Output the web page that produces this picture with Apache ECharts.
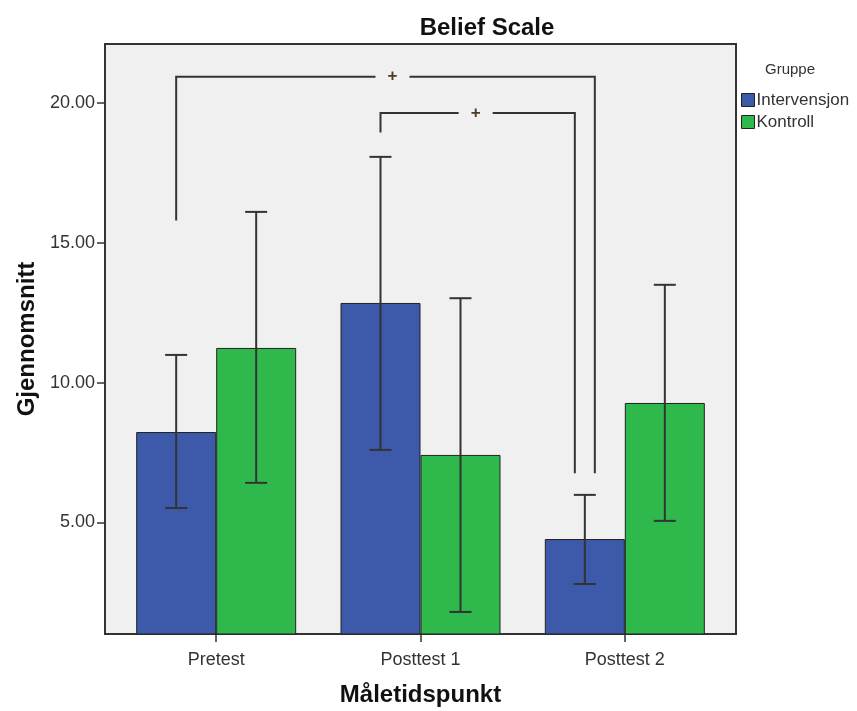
<!DOCTYPE html>
<html>
<head>
<meta charset="utf-8">
<title>Belief Scale</title>
<script src="https://cdn.jsdelivr.net/npm/echarts@6/dist/echarts.min.js"></script>
<style>
  html, body { margin: 0; padding: 0; background: #ffffff; }
  #chart { width: 857px; height: 711px; }
</style>
</head>
<body>
<div id="chart"></div>
<script>
// Measurement points on the x axis
const categories = ['Pretest', 'Posttest 1', 'Posttest 2'];
const groups = ['Intervensjon', 'Kontroll'];

// Group means
const meanIntervensjon = [8.23, 12.85, 4.40];
const meanKontroll = [11.24, 7.41, 9.27];

// Error bar limits
const lowIntervensjon = [5.51, 7.59, 2.79];
const highIntervensjon = [10.99, 18.08, 5.98];
const lowKontroll = [6.41, 1.79, 5.05];
const highKontroll = [16.11, 13.02, 13.50];

// Y axis tick labels
const yTicks = [5, 10, 15, 20];

// Significance brackets (Intervensjon bars): from/to category, end heights, top height, mark
const bracketFrom = [0, 1];
const bracketTo = [2, 2];
const bracketFromEnd = [15.8, 18.95];
const bracketToEnd = [6.75, 6.75];
const bracketTop = [20.95, 19.65];
const bracketMark = ['+', '+'];

const FONT = '"Liberation Sans", Arial, Helvetica, sans-serif';
const BLUE = '#3d59a9';
const GREEN = '#2fb84b';
const INK = '#333333';
const BAR_W = 80;

const chart = echarts.init(document.getElementById('chart'), null, { renderer: 'canvas' });

function errorSeries(name, lows, highs, shift) {
  return {
    type: 'custom',
    name: name + ' CI',
    z: 5,
    silent: true,
    data: categories.map((c, i) => [i, lows[i], highs[i]]),
    renderItem: function (params, api) {
      const lo = api.coord([api.value(0), api.value(1)]);
      const hi = api.coord([api.value(0), api.value(2)]);
      const x = lo[0] + shift;
      const cap = 11;
      const style = { stroke: INK, lineWidth: 2 };
      return {
        type: 'group',
        children: [
          { type: 'line', shape: { x1: x, y1: lo[1], x2: x, y2: hi[1] }, style: style },
          { type: 'line', shape: { x1: x - cap, y1: hi[1], x2: x + cap, y2: hi[1] }, style: style },
          { type: 'line', shape: { x1: x - cap, y1: lo[1], x2: x + cap, y2: lo[1] }, style: style }
        ]
      };
    }
  };
}

// Horizontal nudge of each bracket's right leg so the two legs sit side by side,
// and of each bracket's mark along its top line
const rightLegNudge = [10, -10];
const markNudge = [7, -2];

const bracketSeries = {
  type: 'custom',
  name: 'brackets',
  z: 6,
  silent: true,
  data: bracketFrom.map((f, i) => [f, bracketTo[i], bracketFromEnd[i], bracketToEnd[i], bracketTop[i], i]),
  renderItem: function (params, api) {
    const k = api.value(5);
    const a = api.coord([api.value(0), api.value(2)]);
    const b = api.coord([api.value(1), api.value(3)]);
    const t = api.coord([api.value(0), api.value(4)]);
    const x1 = a[0] - BAR_W / 2;
    const x2 = b[0] - BAR_W / 2 + rightLegNudge[k];
    const yTop = t[1];
    const mid = (x1 + x2) / 2 + markNudge[k];
    const gap = 17;
    const style = { stroke: INK, lineWidth: 2, fill: 'none' };
    return {
      type: 'group',
      children: [
        { type: 'polyline', shape: { points: [[x1, a[1]], [x1, yTop], [mid - gap, yTop]] }, style: style },
        { type: 'polyline', shape: { points: [[mid + gap, yTop], [x2, yTop], [x2, b[1]]] }, style: style },
        {
          type: 'text',
          x: mid, y: yTop,
          style: {
            text: bracketMark[k], fill: '#4a3b22', font: 'bold 17px ' + FONT,
            align: 'center', verticalAlign: 'middle'
          }
        }
      ]
    };
  }
};

const option = {
  animation: false,
  backgroundColor: '#ffffff',
  textStyle: { fontFamily: FONT },
  title: [
    {
      text: 'Belief Scale',
      left: 482, top: 11, textAlign: 'center',
      textStyle: { fontFamily: FONT, fontSize: 24, fontWeight: 'bold', color: '#111' }
    },
    {
      text: 'Gruppe',
      left: 785, top: 57, textAlign: 'center',
      textStyle: { fontFamily: FONT, fontSize: 15, fontWeight: 'normal', color: '#333' }
    }
  ],
  legend: {
    data: groups,
    orient: 'vertical',
    left: 741, top: 91,
    padding: 0,
    itemWidth: 13, itemHeight: 13, itemGap: 4,
    icon: 'rect',
    itemStyle: { borderColor: '#222', borderWidth: 1 },
    textStyle: { fontFamily: FONT, fontSize: 17, lineHeight: 18, color: '#333', padding: [0, 0, 0, -3] },
    selectedMode: false
  },
  grid: {
    left: 105, top: 44, width: 631, height: 590,
    show: true, backgroundColor: '#f0f0f0', borderColor: INK, borderWidth: 2,
    containLabel: false,
    outerBoundsMode: 'none'
  },
  xAxis: {
    type: 'value',
    min: -0.5441, max: 2.5441,
    name: 'Måletidspunkt', nameLocation: 'middle', nameGap: 49,
    nameTextStyle: { fontFamily: FONT, fontSize: 24, fontWeight: 'bold', color: '#111' },
    axisLine: { show: true, onZero: false, lineStyle: { color: INK, width: 2 } },
    axisTick: { show: true, customValues: [0, 1, 2], length: 8, lineStyle: { color: INK, width: 1.5 } },
    axisLabel: {
      customValues: [0, 1, 2], margin: 17,
      formatter: v => categories[Math.round(v)],
      fontFamily: FONT, fontSize: 18, color: '#333'
    },
    splitLine: { show: false }
  },
  yAxis: {
    type: 'value',
    min: 1, max: 22.12,
    name: 'Gjennomsnitt', nameLocation: 'middle', nameGap: 60, nameRotate: 90,
    nameTextStyle: { fontFamily: FONT, fontSize: 24, fontWeight: 'bold', color: '#111' },
    axisLine: { show: true, onZero: false, lineStyle: { color: INK, width: 2 } },
    axisTick: { show: true, customValues: yTicks, length: 8, lineStyle: { color: INK, width: 1.5 } },
    axisLabel: {
      customValues: yTicks, margin: 10,
      formatter: v => v.toFixed(2),
      fontFamily: FONT, fontSize: 18, color: '#333'
    },
    splitLine: { show: false }
  },
  series: [
    {
      name: groups[0], type: 'bar',
      barWidth: BAR_W, barGap: '0%',
      itemStyle: { color: BLUE, borderColor: '#222', borderWidth: 1 },
      data: meanIntervensjon.map((v, i) => [i, v])
    },
    {
      name: groups[1], type: 'bar',
      barWidth: BAR_W, barGap: '0%',
      itemStyle: { color: GREEN, borderColor: '#222', borderWidth: 1 },
      data: meanKontroll.map((v, i) => [i, v])
    },
    errorSeries(groups[0], lowIntervensjon, highIntervensjon, -BAR_W / 2),
    errorSeries(groups[1], lowKontroll, highKontroll, BAR_W / 2),
    bracketSeries
  ]
};

chart.setOption(option);
</script>
</body>
</html>
